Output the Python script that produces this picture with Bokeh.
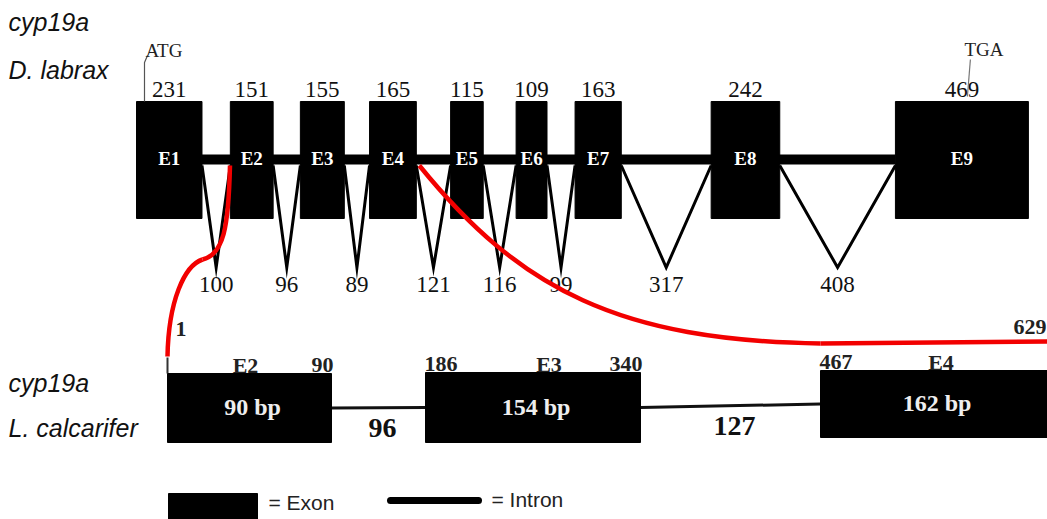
from bokeh.plotting import figure
from bokeh.models import Range1d, ColumnDataSource
from bokeh.core.properties import value
from bokeh.embed import file_html
from bokeh.resources import INLINE

# ---------------- data ----------------
# D. labrax cyp19a: exon and intron lengths (bp)
dl_exon_names = ["E1", "E2", "E3", "E4", "E5", "E6", "E7", "E8", "E9"]
dl_exon_bp = [231, 151, 155, 165, 115, 109, 163, 242, 469]
dl_intron_bp = [100, 96, 89, 121, 116, 99, 317, 408]

# L. calcarifer cyp19a (partial): exon positions and lengths (bp)
lc_exon_names = ["E2", "E3", "E4"]
lc_exon_start = [1, 186, 467]
lc_exon_end = [90, 340, 629]
lc_exon_bp = [90, 154, 162]
lc_intron_bp = [96, 127]

legend_labels = ["= Exon", "= Intron"]

# ---------------- layout (pixel space) ----------------
W, H = 1047, 519
X0, PX_PER_BP = 136.0, 0.2835
EX_TOP, EX_BOT = 101, 218
INTRON_Y, V_TOP, V_BOT = 159, 165, 267
# bottom row drawn not to scale: box edges in pixels
lc_left = [167, 425, 820]
lc_right = [331, 640, 1047]
lc_top = [373, 372, 370]
lc_bot = [442, 442, 437]
lc_name_dx = [-4, 16, 7]

SERIF = value("Liberation Serif")
SANS = value("Liberation Sans")
MID = "middle"

p = figure(width=W, height=H, x_range=Range1d(0, W), y_range=Range1d(H, 0),
           output_backend="svg", toolbar_location=None, min_border=0,
           x_axis_location=None, y_axis_location=None)
p.grid.visible = False
p.outline_line_color = None
p.background_fill_color = "white"
p.border_fill_color = "white"

# ---- top gene: positions from bp scale ----
starts, ends = [], []
pos = 0
for i, bp in enumerate(dl_exon_bp):
    starts.append(X0 + pos * PX_PER_BP)
    pos += bp
    ends.append(X0 + pos * PX_PER_BP)
    if i < len(dl_intron_bp):
        pos += dl_intron_bp[i]

# thick intron line
p.segment(x0=[ends[0]], y0=[INTRON_Y], x1=[starts[-1]], y1=[INTRON_Y],
          line_color="black", line_width=10)
# V shaped introns
vx, vy, mids = [], [], []
for i in range(len(dl_intron_bp)):
    m = (ends[i] + starts[i + 1]) / 2
    mids.append(m)
    vx.append([ends[i], m, starts[i + 1]])
    vy.append([V_TOP, V_BOT, V_TOP])
p.multi_line(xs=vx, ys=vy, line_color="black", line_width=3, line_join="miter")

# exons
p.quad(left=starts, right=ends, top=[EX_TOP] * 9, bottom=[EX_BOT] * 9,
       fill_color="black", line_color="black")

centers = [(a + b) / 2 for a, b in zip(starts, ends)]
p.text(x=centers, y=[158] * 9, text=dl_exon_names, text_align="center",
       text_baseline=MID, text_font=SERIF, text_font_style="bold",
       text_font_size="19px", text_color="white")
p.text(x=centers, y=[89] * 9, text=[str(v) for v in dl_exon_bp], text_align="center",
       text_baseline=MID, text_font=SERIF, text_font_size="23px",
       text_color="#111111")
p.text(x=mids, y=[284] * 8, text=[str(v) for v in dl_intron_bp], text_align="center",
       text_baseline=MID, text_font=SERIF, text_font_size="23px",
       text_color="#111111")

# ATG / TGA markers
p.line(x=[starts[0] + 8, starts[0] + 8, starts[0] + 11], y=[EX_TOP, 62, 55],
       line_color="#555555", line_width=1.2)
p.text(x=[starts[0] + 9], y=[50], text=["ATG"], text_font=SERIF, text_font_size="19px",
       text_baseline=MID, text_color="#222222")
p.line(x=[ends[-1] - 61, ends[-1] - 58], y=[96, 59], line_color="#777777", line_width=1.2)
p.text(x=[ends[-1] - 64], y=[49], text=["TGA"], text_font=SERIF, text_font_size="19px",
       text_baseline=MID, text_color="#222222")

# ---- bottom gene ----
lc_mid_y = [(t + b) / 2 for t, b in zip(lc_top, lc_bot)]
# introns
p.segment(x0=lc_right[:-1], y0=lc_mid_y[:-1], x1=lc_left[1:], y1=lc_mid_y[1:],
          line_color="#111111", line_width=3)
# start tick
p.segment(x0=[lc_left[0]], y0=[357], x1=[lc_left[0]], y1=[lc_top[0]],
          line_color="#333333", line_width=2)

# labels above boxes (drawn before boxes so the boxes trim their feet slightly)
lab_x = [lc_left[0] + 8]
lab_y = [328]
lab_t = [str(lc_exon_start[0])]
lab_a = ["left"]
for i in range(3):
    cx = (lc_left[i] + lc_right[i]) / 2
    lab_x.append(cx + lc_name_dx[i])
    lab_y.append(lc_top[i] - 8)
    lab_t.append(lc_exon_names[i])
    lab_a.append("center")
    if i > 0:
        lab_x.append(lc_left[i] - 1)
        lab_y.append(lc_top[i] - 9)
        lab_t.append(str(lc_exon_start[i]))
        lab_a.append("left")
    if i < 2:
        lab_x.append(lc_right[i] + 2)
        lab_y.append(lc_top[i] - 9)
        lab_t.append(str(lc_exon_end[i]))
        lab_a.append("right")
lab_x.append(1046)
lab_y.append(326)
lab_t.append(str(lc_exon_end[2]))
lab_a.append("right")
src = ColumnDataSource(dict(x=lab_x, y=lab_y, t=lab_t, a=lab_a))
p.text(x="x", y="y", text="t", text_align="a", source=src, text_baseline=MID,
       text_font=SERIF, text_font_style="bold", text_font_size="22px", text_color="#222222")

p.quad(left=lc_left, right=lc_right, top=lc_top, bottom=lc_bot,
       fill_color="black", line_color="black")
p.text(x=[(l + r) / 2 + 3 for l, r in zip(lc_left, lc_right)], y=[y - 1 for y in lc_mid_y],
       text=[f"{v} bp" for v in lc_exon_bp], text_align="center", text_baseline=MID,
       text_font=SERIF, text_font_style="bold", text_font_size="24px", text_color="#eeeeee")
p.text(x=[(lc_right[i] + lc_left[i + 1]) / 2 + 4 for i in range(2)], y=[427, 425],
       text=[str(v) for v in lc_intron_bp], text_align="center", text_baseline=MID,
       text_font=SERIF, text_font_style="bold", text_font_size="28px", text_color="#111111")

# ---- red connection curves ----
RED = "#f20000"
p.bezier(x0=[ends[0] + 28, 202], y0=[165, 259], x1=[202, lc_left[0]], y1=[259, 356],
         cx0=[228, 184], cy0=[228, 265], cx1=[223, 168], cy1=[254, 300],
         line_color=RED, line_width=4.5)
p.bezier(x0=[ends[3] + 3], y0=[165], x1=[820], y1=[343],
         cx0=[520], cy0=[290], cx1=[620], cy1=[340], line_color=RED, line_width=4.5)
p.segment(x0=[820], y0=[343], x1=[1047], y1=[341], line_color=RED, line_width=4.5)

# ---- species labels ----
p.text(x=[8, 8, 8, 8], y=[21, 69, 382, 427],
       text=["cyp19a", "D. labrax", "cyp19a", "L. calcarifer"],
       text_font=SANS, text_font_style="italic", text_font_size="25px",
       text_baseline=MID, text_color="#111111")

# ---- legend ----
p.quad(left=[168], right=[257], top=[493], bottom=[530], fill_color="black", line_color="black")
p.segment(x0=[390], y0=[500], x1=[478], y1=[500], line_color="black", line_width=7,
          line_cap="round")
p.text(x=[268, 491], y=[502, 499], text=legend_labels, text_font=SANS,
       text_font_size="21px", text_baseline=MID, text_color="#222222")

open("out.html", "w").write(file_html(p, INLINE))
